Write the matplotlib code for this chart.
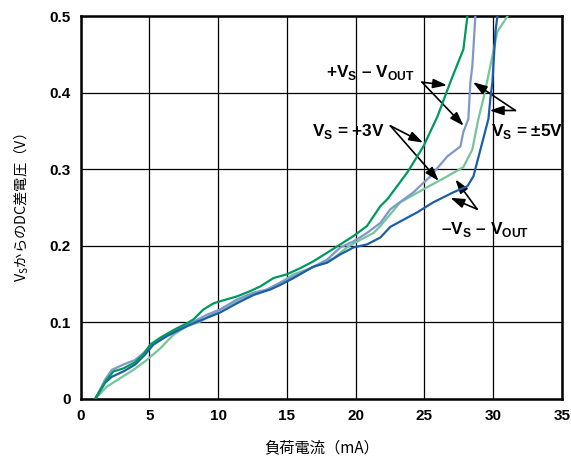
import matplotlib
matplotlib.use('Agg')
import matplotlib.pyplot as plt

plt.rcParams['mathtext.fontset'] = 'custom'
plt.rcParams['mathtext.rm'] = 'Liberation Sans'
plt.rcParams['mathtext.bf'] = 'Liberation Sans:bold'

# load current (mA) vs. DC voltage difference from Vs (V)
x_plus3 = [1.06, 1.90, 2.39, 3.12, 3.97, 4.57, 5.06, 5.79, 6.76, 7.73, 8.21, 8.94, 9.67, 10.39,
           11.37, 12.34, 13.06, 14.03, 15.01, 15.98, 16.94, 17.92, 18.89, 19.85, 20.83, 21.80,
           22.31, 23.76, 24.93, 25.95, 26.89, 27.84, 28.13]
y_plus3 = [0.0, 0.025, 0.036, 0.040, 0.048, 0.058, 0.071, 0.080, 0.090, 0.099, 0.104, 0.117, 0.125, 0.129,
           0.134, 0.141, 0.147, 0.158, 0.163, 0.171, 0.180, 0.191, 0.202, 0.213, 0.226, 0.252,
           0.261, 0.296, 0.330, 0.369, 0.414, 0.457, 0.500]

x_minus3 = [1.06, 1.78, 2.27, 3.12, 3.97, 4.57, 5.18, 6.27, 7.24, 8.21, 9.18, 10.15, 11.37, 12.58,
            13.55, 14.52, 15.49, 16.94, 17.92, 18.89, 19.85, 20.83, 21.80, 22.53, 24.20, 25.44,
            26.67, 27.62, 27.84, 28.20, 28.35, 28.49, 28.71]
y_minus3 = [0.0, 0.025, 0.038, 0.045, 0.051, 0.060, 0.071, 0.084, 0.093, 0.101, 0.110, 0.117, 0.130, 0.139,
            0.143, 0.152, 0.160, 0.173, 0.182, 0.198, 0.206, 0.217, 0.230, 0.248, 0.270, 0.291,
            0.317, 0.330, 0.349, 0.366, 0.414, 0.435, 0.500]

x_plus5 = [1.06, 1.90, 2.87, 3.84, 4.82, 5.79, 6.76, 7.73, 8.70, 9.67, 10.64, 11.61, 12.58, 13.55,
           14.52, 15.49, 16.46, 17.43, 18.40, 19.37, 20.34, 21.31, 21.80, 23.25, 24.93, 26.67,
           27.84, 28.49, 28.93, 29.29, 29.80, 30.31, 31.04]
y_plus5 = [0.0, 0.016, 0.027, 0.038, 0.051, 0.066, 0.084, 0.095, 0.101, 0.112, 0.121, 0.130, 0.136, 0.143,
           0.152, 0.163, 0.169, 0.176, 0.184, 0.198, 0.208, 0.217, 0.226, 0.257, 0.274, 0.291,
           0.303, 0.326, 0.366, 0.392, 0.435, 0.480, 0.500]

x_minus5 = [1.06, 1.78, 2.27, 3.12, 3.97, 4.69, 5.30, 6.27, 7.24, 8.21, 9.18, 10.15, 11.37, 12.58,
            13.79, 14.52, 15.49, 16.94, 17.92, 18.89, 19.85, 20.83, 21.80, 22.53, 24.49, 25.65,
            27.10, 28.13, 28.57, 29.08, 29.66, 29.80, 29.95, 30.02, 30.17, 30.31]
y_minus5 = [0.0, 0.021, 0.029, 0.036, 0.045, 0.058, 0.071, 0.082, 0.091, 0.099, 0.106, 0.113, 0.125, 0.136,
            0.143, 0.149, 0.158, 0.173, 0.178, 0.189, 0.198, 0.202, 0.211, 0.225, 0.244, 0.257,
            0.270, 0.278, 0.291, 0.326, 0.366, 0.392, 0.414, 0.435, 0.480, 0.500]

x_ticks = [0, 5, 10, 15, 20, 25, 30, 35]
y_ticks = [0, 0.1, 0.2, 0.3, 0.4, 0.5]
y_tick_labels = ['0', '0.1', '0.2', '0.3', '0.4', '0.5']

fig = plt.figure(figsize=(5.71, 4.61), dpi=100)
ax = fig.add_axes([0.141, 0.1345, 0.843, 0.830])

ax.plot(x_plus5, y_plus5, color='#74c49c', lw=1.6, zorder=3)
ax.plot(x_minus3, y_minus3, color='#7f98cb', lw=1.6, zorder=3)
ax.plot(x_minus5, y_minus5, color='#1d5ea6', lw=1.6, zorder=4)
ax.plot(x_plus3, y_plus3, color='#00995c', lw=1.6, zorder=5)

ax.set_xlim(0, 35)
ax.set_ylim(0, 0.5)
ax.set_xticks(x_ticks)
ax.set_yticks(y_ticks)
ax.set_yticklabels(y_tick_labels)
ax.grid(True, color='black', lw=0.9)
ax.tick_params(length=0, labelsize=11, pad=7)
for lab in ax.get_xticklabels() + ax.get_yticklabels():
    lab.set_fontfamily('Liberation Sans')
    lab.set_fontweight('bold')
for sp in ax.spines.values():
    sp.set_linewidth(1.8)

ax.set_xlabel('負荷電流（mA）', family=['Noto Sans CJK JP', 'DejaVu Sans'], fontsize=11, labelpad=12)
ax.set_ylabel('V$_\\mathregular{S}$からのDC差電圧（V）', family=['Noto Sans CJK JP', 'DejaVu Sans'],
              fontsize=10.3)
ax.yaxis.set_label_coords(-0.102, 0.5)

# annotations
txt = dict(fontsize=12.4, fontweight='bold', family='Liberation Sans', zorder=6)
arr = dict(arrowstyle='-|>,head_length=0.6,head_width=0.2', color='black', lw=1.2,
           mutation_scale=14, shrinkA=0, shrinkB=0)

ax.text(21.07, 0.427, '+V$_\\mathregular{S}$ – V$_\\mathregular{OUT}$', ha='center', va='center', **txt)
ax.annotate('', xy=(26.65, 0.410), xytext=(24.83, 0.414), arrowprops=arr)
ax.annotate('', xy=(27.86, 0.357), xytext=(24.83, 0.414), arrowprops=arr)

ax.text(19.47, 0.349, 'V$_\\mathregular{S}$ = +3V', ha='center', va='center', **txt)
ax.annotate('', xy=(24.91, 0.335), xytext=(22.53, 0.357), arrowprops=arr)
ax.annotate('', xy=(26.04, 0.285), xytext=(22.53, 0.357), arrowprops=arr)

ax.text(29.88, 0.349, 'V$_\\mathregular{S}$ = ±5V', ha='left', va='center', **txt)
ax.annotate('', xy=(28.54, 0.414), xytext=(31.62, 0.377), arrowprops=arr)
ax.annotate('', xy=(29.75, 0.377), xytext=(31.62, 0.377), arrowprops=arr)

ax.text(29.44, 0.221, '–V$_\\mathregular{S}$ – V$_\\mathregular{OUT}$', ha='center', va='center', **txt)
ax.annotate('', xy=(27.26, 0.287), xytext=(28.84, 0.248), arrowprops=arr)
ax.annotate('', xy=(26.89, 0.263), xytext=(28.84, 0.248), arrowprops=arr)

plt.savefig('out.png', dpi=100)
plt.close()
